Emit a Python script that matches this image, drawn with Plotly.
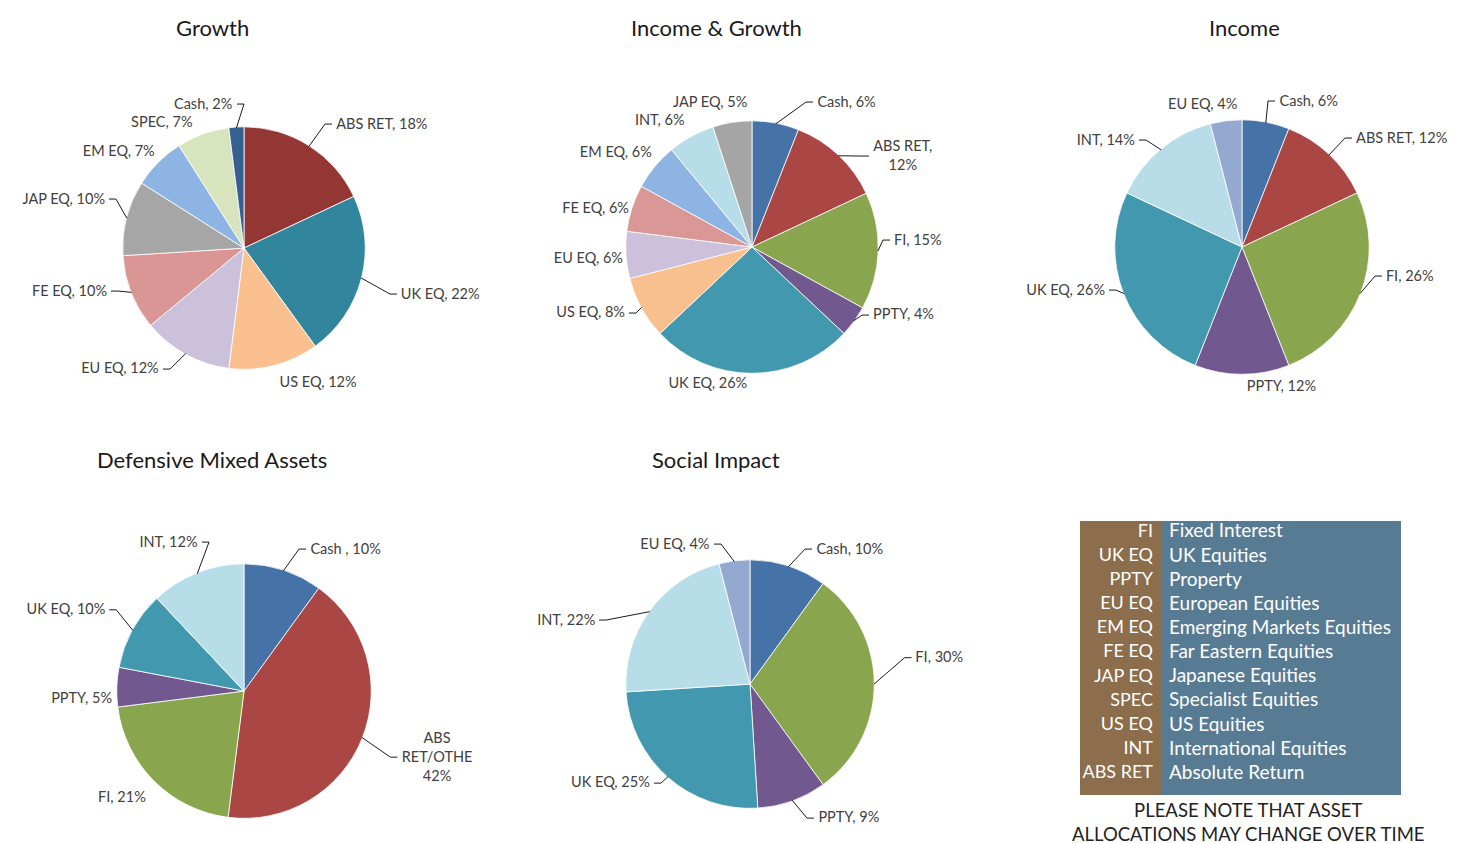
import math
import plotly.graph_objects as go

# Target positions below are screenshot pixels (1459x843).
# The html body keeps its default 8px margin; the screenshot of this page
# was observed to be vertically compressed by ~0.994, so y is corrected.
PAGE_OFF = 8
YS = 0.994
W, H = 1451, 845

# ---------------- data ----------------
growth_labels = ["ABS RET", "UK EQ", "US EQ", "EU EQ", "FE EQ", "JAP EQ", "EM EQ", "SPEC", "Cash"]
growth_values = [18, 22, 12, 12, 10, 10, 7, 7, 2]
growth_colors = ["#943634", "#31859C", "#FAC090", "#CCC1DA", "#D99694", "#A6A6A6", "#8EB4E3", "#D7E4BD", "#376092"]

ig_labels = ["Cash", "ABS RET", "FI", "PPTY", "UK EQ", "US EQ", "EU EQ", "FE EQ", "EM EQ", "INT", "JAP EQ"]
ig_values = [6, 12, 15, 4, 26, 8, 6, 6, 6, 6, 5]
ig_colors = ["#4572A7", "#AA4643", "#89A54E", "#71588F", "#4198AF", "#F9C08F", "#CCC0DA", "#D99795", "#8EB4E3", "#B7DEE8", "#A5A5A5"]

inc_labels = ["Cash", "ABS RET", "FI", "PPTY", "UK EQ", "INT", "EU EQ"]
inc_values = [6, 12, 26, 12, 26, 14, 4]
inc_colors = ["#4572A7", "#AA4643", "#89A54E", "#71588F", "#4198AF", "#B9DDE8", "#93A9CF"]

def_labels = ["Cash ", "ABS RET/OTHE", "FI", "PPTY", "UK EQ", "INT"]
def_values = [10, 42, 21, 5, 10, 12]
def_colors = ["#4572A7", "#AA4643", "#89A54E", "#71588F", "#4198AF", "#B7DEE8"]

soc_labels = ["Cash", "FI", "PPTY", "UK EQ", "INT", "EU EQ"]
soc_values = [10, 30, 9, 25, 22, 4]
soc_colors = ["#4572A7", "#89A54E", "#71588F", "#4198AF", "#B7DEE8", "#93A9CF"]

legend_abbr = ["FI", "UK EQ", "PPTY", "EU EQ", "EM EQ", "FE EQ", "JAP EQ", "SPEC", "US EQ", "INT", "ABS RET"]
legend_full = ["Fixed Interest", "UK Equities", "Property", "European Equities", "Emerging Markets Equities",
               "Far Eastern Equities", "Japanese Equities", "Specialist Equities", "US Equities",
               "International Equities", "Absolute Return"]

titles = ["Growth", "Income & Growth", "Income", "Defensive Mixed Assets", "Social Impact"]
note = "PLEASE NOTE THAT ASSET<br>ALLOCATIONS MAY CHANGE OVER TIME"

FONT = "Lato"
LABEL_COLOR = "#404040"
LABEL_SIZE = 14.5
LINE_H = 18.0


def fx(x):  # screenshot x -> figure pixel x
    return x - PAGE_OFF


def fy(y):  # screenshot y -> figure pixel y
    return y / YS - PAGE_OFF


def px(x):
    return fx(x) / W


def py(y):
    return 1 - fy(y) / H


fig = go.Figure()


def add_pie(labels, values, colors, cx, cy, r, place, leaders, special=None):
    """place: index -> (side, near-edge x, centre y) of the label, in screenshot px."""
    special = special or {}
    tts = [special.get(i, "%{label}, %{value}%") for i in range(len(labels))]
    fcx, fcy = fx(cx), fy(cy)

    def domain(rad):
        return dict(x=[(fcx - rad) / W, (fcx + rad) / W], y=[1 - (fcy + rad) / H, 1 - (fcy - rad) / H])

    fig.add_trace(go.Pie(
        labels=labels, values=values, sort=False, direction="clockwise", rotation=0,
        marker=dict(colors=colors, line=dict(color="white", width=0.8)),
        textinfo="none", hoverinfo="label+value", showlegend=False,
        domain=domain(r),
    ))

    rmax = min(fcx, W - fcx, fcy, H - fcy) - 0.5
    total = float(sum(values))
    cum = 0.0
    for i, v in enumerate(values):
        mid = (cum + v / 2) / total * 2 * math.pi
        cum += v
        sigma, nx, ty = place[i]
        h = LINE_H * (tts[i].count("<br>") + 1)
        tx, tyf = fx(nx), fy(ty)
        # solve ring radius R and angle phi so Plotly's outside text lands on target
        phi = math.atan2(tx - fcx, fcy - tyf)
        R = r
        for _ in range(60):
            s, c = math.sin(phi), math.cos(phi)
            X = tx - fcx - sigma * h / 4
            if sigma * X < 0.5:
                X = sigma * 0.5
            Y = fcy - tyf - (h / 2) * c * abs(c)
            R = math.hypot(X, Y)
            phi = math.atan2(X, Y)
        R = min(R, rmax)
        rot = math.degrees(phi - mid)
        while rot > 180:
            rot -= 360
        while rot < -180:
            rot += 360
        pos = ["outside" if j == i else "none" for j in range(len(labels))]
        fig.add_trace(go.Pie(
            labels=labels, values=values, sort=False, direction="clockwise", rotation=rot,
            marker=dict(colors=["rgba(0,0,0,0)"] * len(labels), line=dict(width=0)),
            texttemplate=tts, textposition=pos,
            outsidetextfont=dict(family=FONT, size=LABEL_SIZE, color=LABEL_COLOR),
            hoverinfo="skip", showlegend=False,
            domain=domain(R),
        ))
        if i in leaders:
            s, c = math.sin(phi), math.cos(phi)
            near_x = fcx + R * s + sigma * h / 4
            cen_y = fcy - R * c - (h / 2) * c * abs(c)
            x3, y3 = near_x - sigma * 5, cen_y + 1
            x2 = x3 - sigma * 7
            x1 = fcx + (r - 1) * math.sin(mid)
            y1 = fcy - (r - 1) * math.cos(mid)
            path = "M {:.5f},{:.5f} L {:.5f},{:.5f} L {:.5f},{:.5f}".format(
                x1 / W, 1 - y1 / H, x2 / W, 1 - y3 / H, x3 / W, 1 - y3 / H)
            fig.add_shape(type="path", xref="paper", yref="paper", path=path,
                          line=dict(color="#1a1a1a", width=1))


add_pie(growth_labels, growth_values, growth_colors, 244, 248, 122,
        place={0: (1, 337, 123), 1: (1, 402, 293), 2: (1, 280, 382), 3: (-1, 158, 368),
               4: (-1, 106, 290), 5: (-1, 104, 198), 6: (-1, 154, 150), 7: (-1, 192, 121),
               8: (-1, 232, 103)},
        leaders={0, 1, 3, 4, 5, 8})
add_pie(ig_labels, ig_values, ig_colors, 752, 247, 127,
        place={0: (1, 818, 101), 1: (1, 874, 155), 2: (1, 895, 239), 3: (1, 874, 314),
               4: (-1, 760, 383), 5: (-1, 624, 312), 6: (-1, 622, 257), 7: (-1, 628, 207),
               8: (-1, 651, 151), 9: (-1, 684, 119), 10: (-1, 769, 101)},
        leaders={0, 1, 2, 3, 5},
        special={1: "%{label},<br>%{value}%"})
add_pie(inc_labels, inc_values, inc_colors, 1242, 247, 128,
        place={0: (1, 1280, 100), 1: (1, 1357, 137), 2: (1, 1387, 275), 3: (1, 1243, 386),
               4: (-1, 1104, 289), 5: (-1, 1134, 139), 6: (-1, 1261, 103)},
        leaders={0, 1, 2, 4, 5})
add_pie(def_labels, def_values, def_colors, 244, 691, 128,
        place={0: (1, 311, 548), 1: (1, 407, 758), 2: (-1, 145, 797), 3: (-1, 111, 697),
               4: (-1, 93, 602), 5: (-1, 197, 541)},
        leaders={0, 1, 4, 5},
        special={1: "ABS<br>RET/OTHE<br>%{value}%"})
add_pie(soc_labels, soc_values, soc_colors, 750, 684, 125,
        place={0: (1, 817, 548), 1: (1, 926, 655), 2: (1, 819, 817), 3: (-1, 649, 782),
               4: (-1, 580, 613), 5: (-1, 709, 543)},
        leaders={0, 1, 2, 3, 4, 5})

# ---------------- legend table ----------------
tx0, tx1, tsplit, ty0, ty1 = 1080, 1401, 1161, 521, 795
BROWN, BLUE = "#8C6D4C", "#587B94"
fig.add_shape(type="rect", xref="paper", yref="paper", x0=px(tx0), x1=px(tsplit),
              y0=py(ty1), y1=py(ty0), fillcolor=BROWN, line=dict(width=0), layer="below")
fig.add_shape(type="rect", xref="paper", yref="paper", x0=px(tsplit), x1=px(tx1),
              y0=py(ty1), y1=py(ty0), fillcolor=BLUE, line=dict(width=0), layer="below")

tfont = dict(family=FONT, size=[18, 19], color="white")
t_left, t_right = tx0 - 40, tx1 + 40
row_h = 24 / YS
fig.add_trace(go.Table(
    domain=dict(x=[px(t_left), px(t_right)], y=[py(ty1), 1 - (fy(530) - 15) / H]),
    columnwidth=[tsplit - t_left, t_right - tsplit],
    header=dict(values=[legend_abbr[0], legend_full[0]], height=row_h,
                fill=dict(color="rgba(0,0,0,0)"), line=dict(width=0),
                align=["right", "left"], font=tfont),
    cells=dict(values=[legend_abbr[1:], legend_full[1:]], height=row_h,
               fill=dict(color="rgba(0,0,0,0)"), line=dict(width=0),
               align=["right", "left"], font=tfont),
))

# ---------------- titles ----------------
title_pos = [(212, 27), (716, 27), (1244, 27), (212, 459), (716, 459)]
for t, (x, y) in zip(titles, title_pos):
    fig.add_annotation(text=t, x=px(x), y=py(y), xref="paper", yref="paper",
                       showarrow=False, xanchor="center", yanchor="middle",
                       font=dict(family=FONT, size=22, color="#1a1a1a"))

fig.add_annotation(text=note, x=px(1248), y=py(822), xref="paper", yref="paper",
                   showarrow=False, xanchor="center", yanchor="middle",
                   font=dict(family=FONT, size=18.5, color="#222222"))

fig.update_layout(width=W, height=H, margin=dict(l=0, r=0, t=0, b=0),
                  paper_bgcolor="white", plot_bgcolor="white")

fig.write_html("out.html", config={"displayModeBar": False})
